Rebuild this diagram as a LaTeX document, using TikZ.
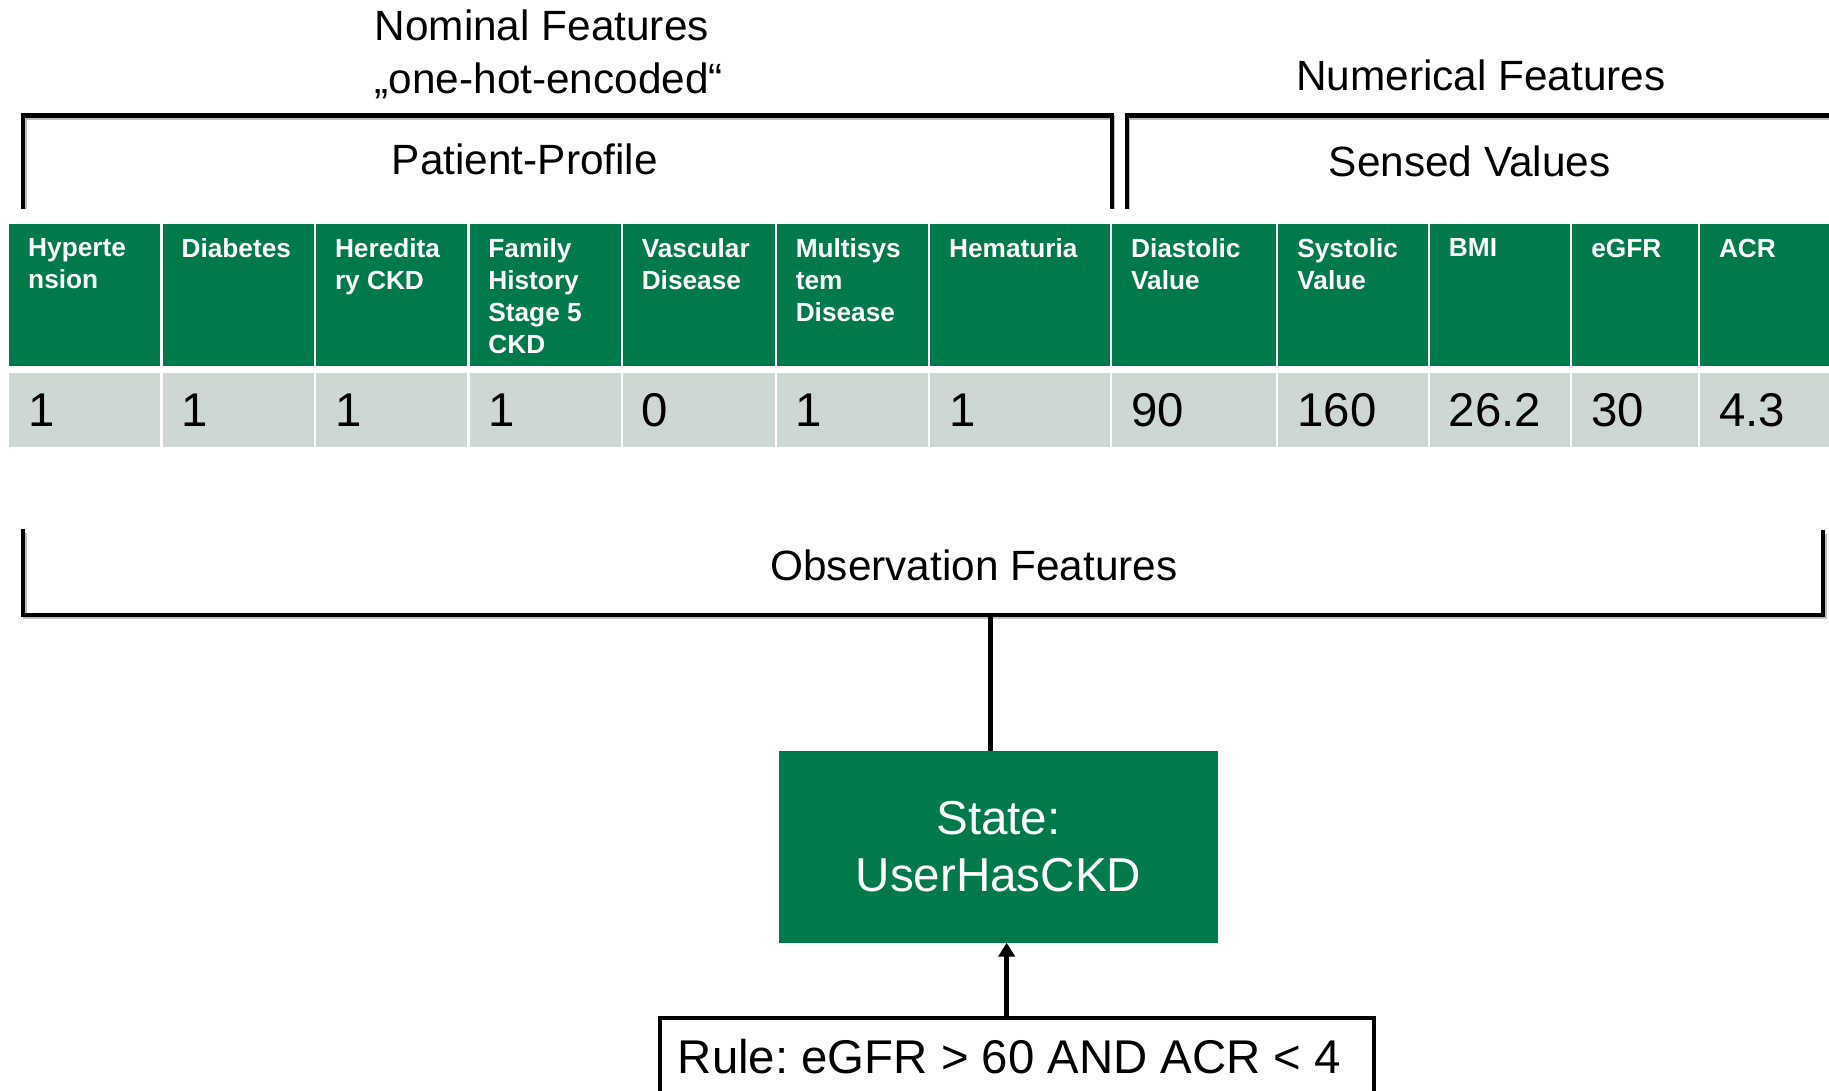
\documentclass[tikz,border=0pt]{standalone}
\usepackage{fontspec}
\setmainfont{Liberation Sans}
\usetikzlibrary{arrows.meta}
\frenchspacing

\definecolor{ckdgreen}{HTML}{007A4B}
\definecolor{ckdgray}{HTML}{CCD8D1}

\tikzset{
  brk/.style={line width=3.6pt, line cap=rect, line join=miter},
  brkshadow/.style={line width=3.6pt, draw=black!25, shift={(1.2,2.2)}},
  lbl/.style={font=\fontsize{36.3}{45}\selectfont, inner sep=0pt},
  htext/.style={font=\fontsize{22.5}{27.3}\selectfont\bfseries, text=white, align=left, inner sep=0pt, anchor=north west},
  vtext/.style={font=\fontsize{40.6}{48}\selectfont, inner sep=0pt, anchor=base west},
  statebox/.style={fill=ckdgreen, text=white, font=\fontsize{40.8}{49}\selectfont, align=center,
                   minimum width=376pt, minimum height=164pt, inner sep=0pt},
  rulebox/.style={draw, line width=3.8pt, minimum width=612pt, minimum height=110pt, inner sep=0pt, anchor=north west},
  conn/.style={line width=3.8pt},
  arr/.style={line width=3.8pt, -{Triangle[width=14pt,length=12pt]}}
}

\begin{document}
\begin{tikzpicture}[x=1pt, y=-1pt]
  \clip (0,0) rectangle (1568,935);
  \fill[white] (0,0) rectangle (1568,935);

  % group titles
  \node[lbl, anchor=base west] (nomA) at (321,35) {Nominal Features};
  \node[lbl, anchor=base west] (nomB) at (321,80) {„one-hot-encoded“};
  \node[lbl, anchor=base west] (num) at (1111,78) {Numerical Features};

  % upper brackets with their soft shadow
  \draw[brkshadow] (20,177) -- (20,99) -- (953,99) -- (953,177);
  \draw[brkshadow] (966,177) -- (966,99) -- (1580,99);
  \draw[brk] (20,177) -- (20,99) -- (953,99) -- (953,177);
  \draw[brk] (966,177) -- (966,99) -- (1580,99);
  \node[lbl, anchor=base] (profile) at (450,150) {Patient-Profile};
  \node[lbl, anchor=base] (sensed) at (1260,151) {Sensed Values};

  % feature table: header row and value row
  \foreach \i/\l/\r/\h/\v in {
      1/8/137.5/{Hyperte\\nsion}/1,
      2/139.5/269/{Diabetes}/1,
      3/271/400.5/{Heredita\\ry CKD}/1,
      4/402.5/532/{Family\\History\\Stage 5\\CKD}/1,
      5/534/664/{Vascular\\Disease}/0,
      6/666/795.5/{Multisys\\tem\\Disease}/1,
      7/797.5/951.5/{Hematuria}/1,
      8/953.5/1094/{Diastolic\\Value}/90,
      9/1096/1224/{Systolic\\Value}/160,
      10/1226/1346/{BMI}/26.2,
      11/1348/1455.5/{eGFR}/30,
      12/1457.5/1580/{ACR}/4.3}{
    \fill[ckdgreen] (\l,192) rectangle (\r,313.5);
    \fill[ckdgray] (\l,320) rectangle (\r,383);
    \node[htext] (h\i) at ({\l+16},204.5) {\h};
    \node[vtext] (v\i) at ({\l+16},365.5) {\v};
  }

  % bracket spanning all observation features
  \draw[brkshadow] (20,455) -- (20,527) -- (1563,527) -- (1563,456);
  \draw[brk] (20,455) -- (20,527) -- (1563,527) -- (1563,456);
  \node[lbl, anchor=base] (obsfeat) at (835,498) {Observation Features};
  \coordinate (obs) at (849,527);

  % state and rule
  \node[statebox] (state) at (856,726) {State:\\UserHasCKD};
  \node[rulebox] (rule) at (564,871) {};
  \node[vtext] (ruletext) at (581,920.5) {Rule: eGFR > 60 AND ACR < 4};
  \coordinate (ruletop) at (863,871);

  \draw[conn] (obs) -- (obs |- state.north);
  \draw[arr] (ruletop) -- (ruletop |- state.south);
\end{tikzpicture}
\end{document}
